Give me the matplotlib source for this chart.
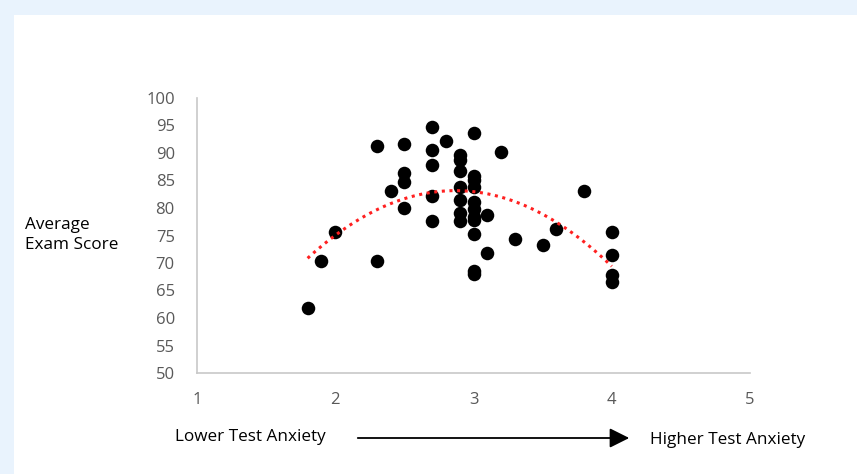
import numpy as np
import matplotlib
matplotlib.use("Agg")
import matplotlib.pyplot as plt

# Test anxiety (1-5) vs average exam score
anxiety = [1.8, 1.9, 2.0, 2.3, 2.3, 2.4, 2.5, 2.5, 2.5, 2.5,
           2.7, 2.7, 2.7, 2.7, 2.7, 2.8, 2.9, 2.9, 2.9, 2.9,
           2.9, 2.9, 2.9, 3.0, 3.0, 3.0, 3.0, 3.0, 3.0, 3.0,
           3.0, 3.0, 3.0, 3.0, 3.1, 3.1, 3.2, 3.3, 3.5, 3.6,
           3.8, 4.0, 4.0, 4.0, 4.0]
score = [61.9, 70.4, 75.6, 91.3, 70.4, 83.1, 91.6, 86.4, 84.7, 80.0,
         94.7, 90.6, 87.9, 82.1, 77.7, 92.2, 89.6, 88.8, 86.7, 83.8,
         81.4, 79.0, 77.7, 93.7, 85.9, 85.0, 83.8, 81.1, 79.9, 78.4,
         77.8, 75.2, 68.6, 68.0, 78.7, 71.8, 90.2, 74.3, 73.3, 76.2,
         83.0, 75.6, 71.5, 67.9, 66.5]

x_ticks = [1, 2, 3, 4, 5]
y_ticks = list(range(50, 101, 5))

plt.rcParams['font.family'] = ['Open Sans', 'DejaVu Sans']

fig = plt.figure(figsize=(8.57, 4.74), dpi=100)
fig.patch.set_facecolor('#e9f3fd')

# white card inside the light blue frame
card = plt.Rectangle((14 / 857, 0), 1, 1 - 15 / 474, transform=fig.transFigure,
                     facecolor='white', edgecolor='none', zorder=-10)
fig.patches.append(card)

ax = fig.add_axes([197 / 857, 101 / 474, 553 / 857, 275 / 474])
ax.set_facecolor('none')

ax.scatter(anxiety, score, s=95, color='black', zorder=3, linewidths=0)

# polynomial (order 2) trendline
coef = np.polyfit(anxiety, score, 2)
xs = np.linspace(min(anxiety), max(anxiety), 200)
ax.plot(xs, np.polyval(coef, xs), color='#ff2020', linestyle=(0, (1, 1.5)),
        linewidth=2.2, zorder=4)

ax.set_xlim(1, 5)
ax.set_ylim(50, 100)
ax.set_xticks(x_ticks)
ax.set_yticks(y_ticks)
ax.tick_params(length=0, labelsize=12, colors='#595959', pad=14)
ax.tick_params(axis='y', pad=16)
for side in ['top', 'right']:
    ax.spines[side].set_visible(False)
for side in ['left', 'bottom']:
    ax.spines[side].set_color('#c8c8c8')
    ax.spines[side].set_linewidth(1.2)

fig.text(25 / 857, 1 - 235 / 474, 'Average\nExam Score', fontsize=12.3,
         ha='left', va='center', linespacing=1.3)
fig.text(175 / 857, 1 - 437 / 474, 'Lower Test Anxiety', fontsize=12.3,
         ha='left', va='center')
fig.text(650 / 857, 1 - 440 / 474, 'Higher Test Anxiety', fontsize=12.3,
         ha='left', va='center')
fig.add_artist(matplotlib.patches.FancyArrowPatch(
    (355 / 857, 1 - 438 / 474), (632 / 857, 1 - 438 / 474),
    transform=fig.transFigure, arrowstyle='-|>,head_length=8,head_width=4',
    mutation_scale=1.5, color='black', linewidth=1.3))

fig.savefig('out.png', dpi=100, facecolor=fig.get_facecolor())
